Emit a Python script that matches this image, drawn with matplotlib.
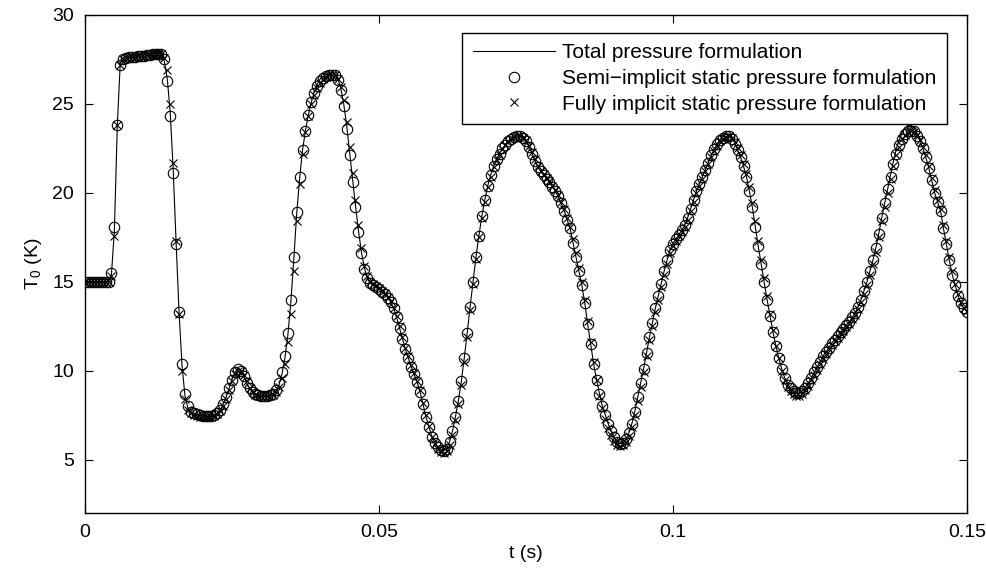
import numpy as np
import matplotlib
matplotlib.use("Agg")
import matplotlib.pyplot as plt

# time samples (s), step 0.0005 from 0 to 0.15
t = np.linspace(0.0, 0.15, 301)

# total pressure formulation, T_0 in K, 10 samples per row (0.005 s)
T_total = [
    15.0, 15.0, 15.0, 15.0, 15.0, 15.0, 15.0, 15.0, 15.0, 15.4,
    17.9, 23.8, 27.3, 27.6, 27.65, 27.68, 27.7, 27.72, 27.74, 27.76,
    27.78, 27.8, 27.82, 27.84, 27.86, 27.88, 27.8, 27.4, 26.4, 24.5,
    21.3, 17.2, 13.3, 10.3, 8.6, 7.9, 7.65, 7.55, 7.5, 7.48,
    7.46, 7.44, 7.44, 7.45, 7.5, 7.6, 7.8, 8.1, 8.5, 9.0,
    9.5, 9.9, 10.1, 10.0, 9.7, 9.3, 9.0, 8.8, 8.7, 8.65,
    8.6, 8.6, 8.6, 8.65, 8.7, 8.9, 9.2, 9.8, 10.7, 12.0,
    13.8, 16.2, 18.8, 20.8, 22.4, 23.5, 24.4, 25.1, 25.7, 26.1,
    26.4, 26.55, 26.65, 26.7, 26.75, 26.7, 26.45, 25.9, 25.0, 23.8,
    22.3, 20.8, 19.3, 17.9, 16.7, 15.8, 15.25, 14.95, 14.8, 14.7,
    14.6, 14.45, 14.3, 14.1, 13.85, 13.5, 13.0, 12.4, 11.8, 11.2,
    10.7, 10.2, 9.8, 9.35, 8.8, 8.1, 7.4, 6.85, 6.3, 5.95,
    5.7, 5.55, 5.5, 5.6, 6.0, 6.6, 7.4, 8.3, 9.4, 10.7,
    12.1, 13.6, 15.0, 16.4, 17.6, 18.7, 19.6, 20.4, 21.0, 21.5,
    21.9, 22.2, 22.5, 22.7, 22.9, 23.05, 23.2, 23.25, 23.25, 23.15,
    22.95, 22.65, 22.25, 21.85, 21.5, 21.2, 21.0, 20.8, 20.6, 20.35,
    20.1, 19.8, 19.4, 19.0, 18.5, 18.0, 17.2, 16.4, 15.6, 14.8,
    13.8, 12.6, 11.5, 10.4, 9.5, 8.7, 8.0, 7.5, 7.0, 6.6,
    6.25, 6.0, 5.9, 5.95, 6.15, 6.5, 7.0, 7.7, 8.5, 9.3,
    10.1, 11.0, 11.9, 12.7, 13.5, 14.2, 14.9, 15.6, 16.2, 16.8,
    17.15, 17.4, 17.65, 17.9, 18.2, 18.6, 19.1, 19.6, 20.1, 20.5,
    20.9, 21.3, 21.7, 22.1, 22.45, 22.75, 23.0, 23.2, 23.3, 23.3,
    23.15, 22.8, 22.4, 22.0, 21.5, 20.9, 20.1, 19.2, 18.1, 17.0,
    16.0, 15.0, 14.0, 13.1, 12.2, 11.4, 10.7, 10.1, 9.6, 9.2,
    9.0, 8.85, 8.75, 8.75, 8.85, 9.05, 9.3, 9.6, 9.9, 10.2,
    10.5, 10.8, 11.05, 11.3, 11.55, 11.75, 11.95, 12.15, 12.35, 12.55,
    12.75, 13.0, 13.25, 13.6, 14.0, 14.5, 15.0, 15.6, 16.2, 16.9,
    17.7, 18.6, 19.4, 20.2, 21.0, 21.8, 22.5, 23.0, 23.4, 23.65,
    23.8, 23.8, 23.65, 23.35, 22.95, 22.5, 22.0, 21.4, 20.7, 20.0,
    19.5, 19.0, 18.0, 17.1, 16.2, 15.4, 14.8, 14.2, 13.8, 13.5,
    13.3,
]

# semi-implicit static pressure formulation (circles)
T_semi = [
    15.0, 15.0, 15.0, 15.0, 15.0, 15.0, 15.0, 15.0, 15.0, 15.5,
    18.1, 23.8, 27.2, 27.55, 27.6, 27.62, 27.64, 27.66, 27.68, 27.7,
    27.72, 27.74, 27.76, 27.78, 27.8, 27.82, 27.8, 27.5, 26.3, 24.3,
    21.1, 17.1, 13.3, 10.4, 8.7, 8.0, 7.7, 7.6, 7.55, 7.5,
    7.48, 7.45, 7.45, 7.45, 7.5, 7.6, 7.8, 8.1, 8.5, 9.0,
    9.5, 9.9, 10.1, 10.0, 9.7, 9.3, 9.0, 8.8, 8.7, 8.65,
    8.6, 8.6, 8.6, 8.65, 8.7, 8.9, 9.3, 9.9, 10.8, 12.1,
    14.0, 16.4, 18.9, 20.9, 22.4, 23.5, 24.4, 25.1, 25.6, 26.0,
    26.3, 26.45, 26.55, 26.6, 26.65, 26.6, 26.35, 25.8, 24.9, 23.6,
    22.1, 20.6, 19.2, 17.8, 16.6, 15.7, 15.2, 14.95, 14.8, 14.7,
    14.6, 14.45, 14.3, 14.1, 13.85, 13.5, 13.0, 12.4, 11.8, 11.2,
    10.7, 10.2, 9.8, 9.35, 8.8, 8.1, 7.4, 6.85, 6.3, 5.95,
    5.7, 5.55, 5.5, 5.6, 6.0, 6.6, 7.4, 8.3, 9.4, 10.7,
    12.1, 13.6, 15.0, 16.4, 17.6, 18.7, 19.6, 20.4, 21.0, 21.5,
    21.9, 22.2, 22.5, 22.7, 22.9, 23.05, 23.15, 23.2, 23.2, 23.1,
    22.9, 22.6, 22.2, 21.8, 21.45, 21.2, 21.0, 20.8, 20.6, 20.35,
    20.1, 19.8, 19.4, 19.0, 18.5, 18.0, 17.2, 16.4, 15.6, 14.8,
    13.8, 12.6, 11.5, 10.4, 9.5, 8.7, 8.0, 7.5, 7.0, 6.6,
    6.25, 6.0, 5.9, 5.95, 6.15, 6.5, 7.0, 7.7, 8.5, 9.3,
    10.1, 11.0, 11.9, 12.7, 13.5, 14.2, 14.9, 15.6, 16.2, 16.8,
    17.15, 17.4, 17.65, 17.9, 18.2, 18.6, 19.1, 19.6, 20.1, 20.5,
    20.9, 21.3, 21.7, 22.1, 22.45, 22.75, 22.95, 23.1, 23.2, 23.2,
    23.05, 22.75, 22.4, 22.0, 21.5, 20.9, 20.1, 19.2, 18.1, 17.0,
    16.0, 15.0, 14.0, 13.1, 12.2, 11.4, 10.7, 10.1, 9.6, 9.2,
    9.0, 8.85, 8.75, 8.75, 8.85, 9.05, 9.3, 9.6, 9.9, 10.2,
    10.5, 10.8, 11.05, 11.3, 11.55, 11.75, 11.95, 12.15, 12.35, 12.55,
    12.75, 13.0, 13.25, 13.6, 14.0, 14.5, 15.0, 15.6, 16.2, 16.9,
    17.7, 18.6, 19.4, 20.2, 20.9, 21.6, 22.2, 22.7, 23.05, 23.3,
    23.45, 23.5, 23.45, 23.2, 22.9, 22.5, 22.0, 21.4, 20.7, 20.0,
    19.5, 19.0, 18.0, 17.1, 16.2, 15.4, 14.8, 14.2, 13.8, 13.5,
    13.3,
]

# fully implicit static pressure formulation (crosses)
T_full = [
    15.0, 15.0, 15.0, 15.0, 15.0, 15.0, 15.0, 15.0, 15.0, 15.3,
    17.6, 23.8, 27.2, 27.55, 27.6, 27.62, 27.64, 27.66, 27.68, 27.7,
    27.72, 27.74, 27.76, 27.78, 27.8, 27.82, 27.8, 27.6, 26.9, 25.0,
    21.7, 17.3, 13.2, 10.0, 8.4, 7.8, 7.6, 7.5, 7.45, 7.42,
    7.4, 7.38, 7.38, 7.4, 7.45, 7.55, 7.75, 8.0, 8.4, 8.9,
    9.4, 9.8, 10.0, 10.0, 9.75, 9.4, 9.05, 8.8, 8.65, 8.6,
    8.55, 8.55, 8.55, 8.6, 8.65, 8.8, 9.1, 9.6, 10.4, 11.6,
    13.2, 15.6, 18.4, 20.5, 22.2, 23.4, 24.3, 25.0, 25.5, 25.9,
    26.2, 26.4, 26.5, 26.6, 26.65, 26.6, 26.4, 25.95, 25.2, 24.0,
    22.6, 21.1, 19.6, 18.2, 16.9, 15.9, 15.3, 15.0, 14.85, 14.75,
    14.65, 14.5, 14.35, 14.15, 13.9, 13.55, 13.1, 12.5, 11.9, 11.3,
    10.8, 10.3, 9.85, 9.4, 8.9, 8.2, 7.5, 6.9, 6.3, 5.9,
    5.6, 5.45, 5.4, 5.5, 5.85, 6.4, 7.2, 8.1, 9.2, 10.5,
    11.9, 13.4, 14.9, 16.3, 17.5, 18.6, 19.5, 20.3, 20.9, 21.45,
    21.85, 22.15, 22.45, 22.7, 22.9, 23.05, 23.15, 23.2, 23.2, 23.1,
    22.95, 22.65, 22.3, 21.9, 21.5, 21.25, 21.05, 20.85, 20.65, 20.4,
    20.15, 19.85, 19.5, 19.1, 18.6, 18.1, 17.4, 16.6, 15.8, 15.0,
    14.0, 12.8, 11.6, 10.5, 9.5, 8.6, 7.9, 7.3, 6.8, 6.4,
    6.05, 5.85, 5.75, 5.8, 6.0, 6.35, 6.85, 7.5, 8.3, 9.1,
    9.9, 10.8, 11.7, 12.5, 13.3, 14.0, 14.7, 15.4, 16.0, 16.6,
    17.0, 17.3, 17.55, 17.8, 18.1, 18.5, 19.0, 19.5, 20.0, 20.4,
    20.8, 21.2, 21.6, 22.0, 22.35, 22.65, 22.9, 23.05, 23.15, 23.2,
    23.1, 22.85, 22.5, 22.1, 21.6, 21.05, 20.3, 19.4, 18.4, 17.3,
    16.2, 15.2, 14.2, 13.2, 12.3, 11.4, 10.7, 10.0, 9.5, 9.1,
    8.85, 8.7, 8.6, 8.6, 8.7, 8.9, 9.15, 9.45, 9.75, 10.05,
    10.35, 10.65, 10.95, 11.2, 11.45, 11.65, 11.85, 12.05, 12.25, 12.45,
    12.65, 12.9, 13.15, 13.45, 13.85, 14.3, 14.8, 15.4, 16.0, 16.7,
    17.5, 18.4, 19.2, 20.0, 20.8, 21.5, 22.1, 22.6, 23.0, 23.25,
    23.4, 23.45, 23.4, 23.25, 22.95, 22.6, 22.1, 21.5, 20.85, 20.15,
    19.6, 19.1, 18.2, 17.3, 16.4, 15.6, 14.9, 14.3, 13.85, 13.55,
    13.35,
]

plt.rcParams["font.family"] = ["Liberation Sans", "DejaVu Sans"]
plt.rcParams["mathtext.fontset"] = "custom"
plt.rcParams["mathtext.rm"] = "Liberation Sans"
plt.rcParams["mathtext.it"] = "Liberation Sans:italic"
plt.rcParams["font.size"] = 14

fig = plt.figure(figsize=(9.87, 5.71), dpi=100)
ax = fig.add_axes([0.0861, 0.1016, 0.8936, 0.8722])

ax.plot(t, T_total, color="black", linewidth=0.8, label="Total pressure formulation")
ax.plot(t, T_semi, linestyle="none", marker="o", markersize=7.5, markerfacecolor="none",
        markeredgecolor="black", markeredgewidth=0.8,
        label="Semi\u2212implicit static pressure formulation")
ax.plot(t, T_full, linestyle="none", marker="x", markersize=5.5, color="black",
        markeredgewidth=0.8, label="Fully implicit static pressure formulation")

ax.set_xlim(0, 0.15)
ax.set_ylim(2, 30)
ax.set_xticks([0, 0.05, 0.1, 0.15])
ax.set_xticklabels(["0", "0.05", "0.1", "0.15"])
ax.set_yticks([5, 10, 15, 20, 25, 30])
ax.tick_params(direction="in", length=6, width=0.8, top=True, right=True, pad=8)
for s in ax.spines.values():
    s.set_linewidth(1.0)

ax.set_xlabel("t (s)", labelpad=3)
ax.set_ylabel("T$_0$ (K)", labelpad=6)

leg = ax.legend(loc="upper right", bbox_to_anchor=(0.977, 0.964), borderaxespad=0,
                fancybox=False, edgecolor="black", framealpha=1, numpoints=1,
                fontsize=15, handlelength=3.95, handletextpad=0.34,
                labelspacing=0.32, borderpad=0.5)
leg.get_frame().set_linewidth(1.0)

plt.savefig("out.png", dpi=100)
